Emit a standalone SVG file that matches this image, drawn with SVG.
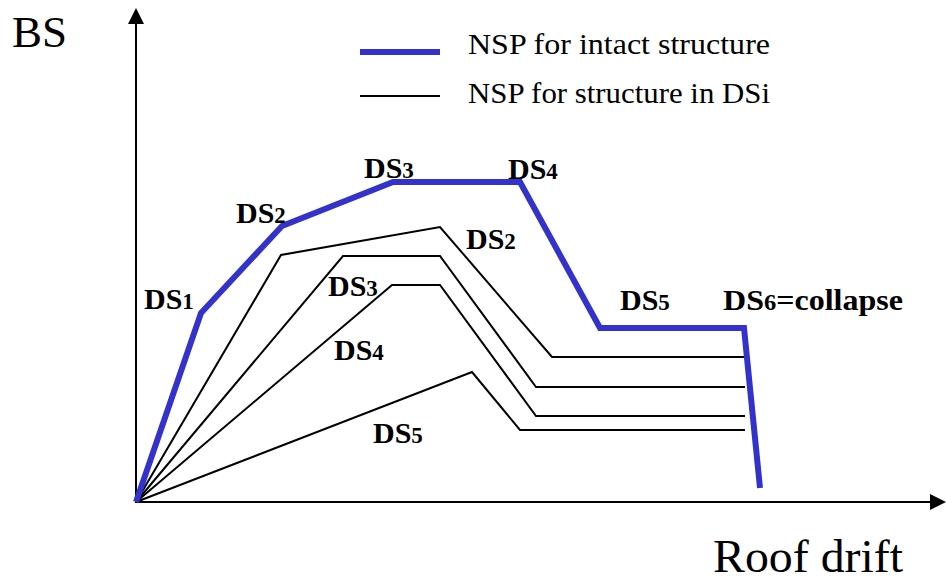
<svg xmlns="http://www.w3.org/2000/svg" width="946" height="583" viewBox="0 0 946 583">
<style>
.ax{fill:none;stroke:#000;stroke-width:2}
.blue{fill:none;stroke:#3333cc;stroke-width:6;stroke-linejoin:miter}
.blk{fill:none;stroke:#000;stroke-width:2}
.lbl{font-family:"Liberation Serif","Times New Roman",serif;font-weight:bold;font-size:30px;fill:#000}
.sub{font-size:23px}
.big{font-family:"Liberation Serif","Times New Roman",serif;fill:#000}
</style>
<g id="axes">
<line class="ax" x1="136" y1="503" x2="136" y2="24"/>
<path d="M128,24 L136,8 L144,24 Z" fill="#000"/>
<line class="ax" x1="136" y1="502" x2="930" y2="502"/>
<path d="M930,494 L946,502 L930,510 Z" fill="#000"/>
<text class="big" x="12" y="47" font-size="45">BS</text>
<text class="big" x="713" y="572" font-size="46" textLength="190" lengthAdjust="spacingAndGlyphs">Roof drift</text>
</g>
<g id="legend">
<line x1="360" y1="52" x2="440" y2="52" stroke="#3333cc" stroke-width="6"/>
<line x1="360" y1="96" x2="440" y2="96" stroke="#000" stroke-width="2"/>
<text class="big" x="468" y="54" font-size="29" textLength="302" lengthAdjust="spacingAndGlyphs">NSP for intact structure</text>
<text class="big" x="468" y="103" font-size="29" textLength="302" lengthAdjust="spacingAndGlyphs">NSP for structure in DSi</text>
</g>
<g id="connectors">
<polyline class="blk" points="136,502 281,255 440,227 552,357 745,357"/>
<polyline class="blk" points="136,502 343,256 440,256 536,387 745,387"/>
<polyline class="blk" points="136,502 392,285 440,285 536,416 745,416"/>
<polyline class="blk" points="136,502 472,372 520,430 745,430"/>
<polyline class="blue" points="136,502 201,313 282,226 393,182 520,182 600,328 744,328 760,488"/>
</g>
<g id="labels">
<text class="lbl" x="144" y="309">DS<tspan class="sub">1</tspan></text>
<text class="lbl" x="236" y="223">DS<tspan class="sub">2</tspan></text>
<text class="lbl" x="364" y="178">DS<tspan class="sub">3</tspan></text>
<text class="lbl" x="508" y="179">DS<tspan class="sub">4</tspan></text>
<text class="lbl" x="466" y="249">DS<tspan class="sub">2</tspan></text>
<text class="lbl" x="620" y="310">DS<tspan class="sub">5</tspan></text>
<text class="lbl" x="723" y="310" textLength="180" lengthAdjust="spacingAndGlyphs">DS<tspan class="sub">6</tspan>=collapse</text>
<text class="lbl" x="328" y="296">DS<tspan class="sub">3</tspan></text>
<text class="lbl" x="334" y="360">DS<tspan class="sub">4</tspan></text>
<text class="lbl" x="373" y="443">DS<tspan class="sub">5</tspan></text>
</g>
</svg>
